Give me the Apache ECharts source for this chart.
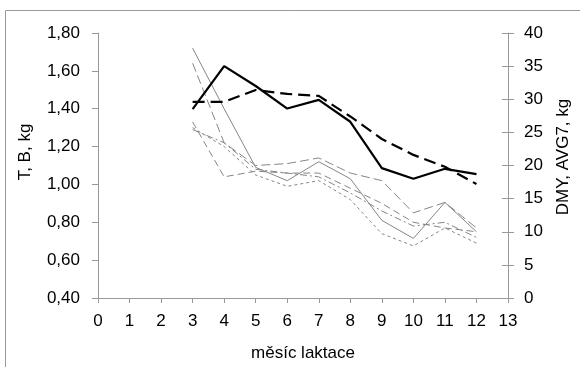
<!DOCTYPE html>
<html><head><meta charset="utf-8">
<script src="https://cdn.jsdelivr.net/npm/echarts@6/dist/echarts.min.js"></script>
<style>html,body{margin:0;padding:0;background:#fff}#c{width:580px;height:367px}</style>
</head><body><div id="c"></div>
<script>
var months = [3,4,5,6,7,8,9,10,11,12];
var xTicks = [0,1,2,3,4,5,6,7,8,9,10,11,12,13];
var leftTicks = [0.40,0.60,0.80,1.00,1.20,1.40,1.60,1.80];
var rightTicks = [0,5,10,15,20,25,30,35,40];
// thin lines (left axis, T, B kg)
var thinSolid   = [1.72,1.40,1.09,1.02,1.12,1.03,0.81,0.715,0.905,0.75];
var thinLong    = [1.64,1.22,1.10,1.11,1.14,1.06,1.02,0.85,0.905,0.77];
var thinDip     = [1.33,1.04,1.07,1.06,1.06,0.98,0.90,0.80,0.77,0.75];
var thinDashDot = [1.29,1.22,1.08,1.06,1.04,0.955,0.86,0.78,0.80,0.72];
var thinDot     = [1.30,1.20,1.05,0.99,1.02,0.92,0.74,0.675,0.77,0.69];
// bold lines (right axis, DMY, AVG7 kg)
var dmy  = [28.5,35.0,32.0,28.6,29.9,26.6,19.6,18.0,19.5,18.7];
var avg7 = [29.6,29.6,31.4,30.8,30.5,27.4,24.0,21.6,19.8,17.2];

function pairs(v){ return months.map(function(m,i){ return [m, v[i]]; }); }
var font = 'Liberation Sans, Arial, sans-serif';
var grey = '#858585';
var fs = 17;
function thin(data, type){
  return {type:'line', yAxisIndex:0, data:pairs(data), symbol:'none', silent:true,
    lineStyle:{color:grey, width:1, type:type}};
}
var chart = echarts.init(document.getElementById('c'), null, {renderer:'canvas'});
chart.setOption({
  animation:false,
  grid:{left:98, right:72, top:33, bottom:69},
  graphic:[
    {type:'rect', shape:{x:5.5, y:10.5, width:700, height:500}, style:{fill:'none', stroke:'#999', lineWidth:1}, z:-1},
    {type:'text', x:25, y:152, rotation:Math.PI/2, style:{text:'T, B, kg', font:fs+'px '+font, fill:'#000', textAlign:'center', textVerticalAlign:'middle'}},
    {type:'text', x:563, y:157, rotation:Math.PI/2, style:{text:'DMY, AVG7, kg', font:fs+'px '+font, fill:'#000', textAlign:'center', textVerticalAlign:'middle'}}
  ],
  xAxis:{type:'value', min:xTicks[0], max:xTicks[xTicks.length-1], interval:1,
    name:'měsíc laktace', nameLocation:'middle', nameGap:47,
    nameTextStyle:{fontFamily:font, fontSize:fs, color:'#000'},
    axisLine:{lineStyle:{color:'#999'}}, axisTick:{show:true, length:5, lineStyle:{color:'#999'}},
    axisLabel:{margin:15, fontFamily:font, fontSize:fs, color:'#000'}, splitLine:{show:false}},
  yAxis:[
    {type:'value', min:leftTicks[0], max:leftTicks[leftTicks.length-1], interval:0.2, position:'left',
      axisLine:{show:true, lineStyle:{color:'#999'}}, axisTick:{show:true, length:6, lineStyle:{color:'#999'}},
      axisLabel:{margin:18, fontFamily:font, fontSize:fs, color:'#000',
        formatter:function(v){ return v.toFixed(2).replace('.', ','); }},
      splitLine:{show:false}},
    {type:'value', min:rightTicks[0], max:rightTicks[rightTicks.length-1], interval:5, position:'right',
      axisLine:{show:true, lineStyle:{color:'#999'}}, axisTick:{show:true, length:6, lineStyle:{color:'#999'}},
      axisLabel:{margin:16, fontFamily:font, fontSize:fs, color:'#000'}, splitLine:{show:false}},
    {type:'value', min:rightTicks[0], max:rightTicks[rightTicks.length-1], interval:5, position:'right',
      axisLine:{show:false}, axisTick:{show:true, inside:true, length:6, lineStyle:{color:'#999'}},
      axisLabel:{show:false}, splitLine:{show:false}}
  ],
  series:[
    thin(thinSolid,'solid'),
    thin(thinLong,[9,4]),
    thin(thinDip,[7,4]),
    thin(thinDashDot,[7,3,2,3]),
    thin(thinDot,[3,3]),
    {type:'line', yAxisIndex:1, data:pairs(dmy), symbol:'none', silent:true, lineStyle:{color:'#000', width:2.2, type:'solid'}},
    {type:'line', yAxisIndex:1, data:pairs(avg7), symbol:'none', silent:true, lineStyle:{color:'#000', width:2.2, type:[12,6]}}
  ]
});
</script></body></html>
